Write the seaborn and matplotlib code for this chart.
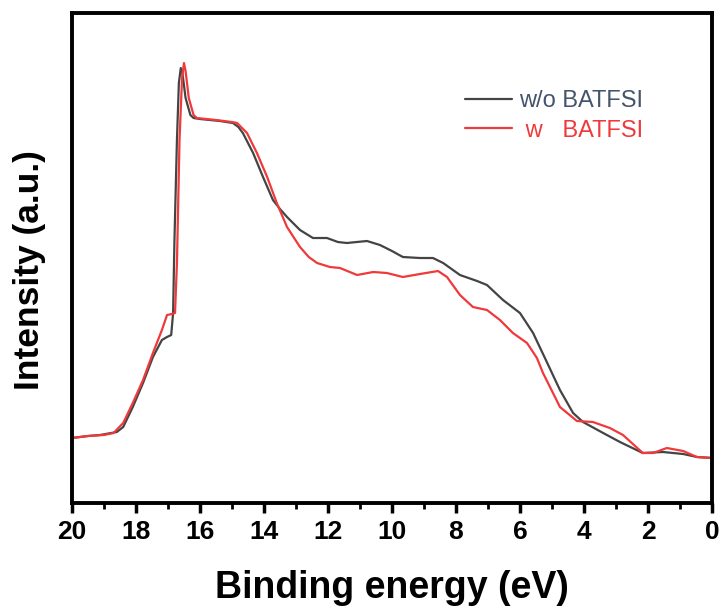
import pandas as pd
import seaborn as sns
import matplotlib.pyplot as plt
from matplotlib.ticker import MultipleLocator, NullLocator
from matplotlib.lines import Line2D

# Valence-band spectra (binding energy in eV, intensity in arbitrary units)
energy_wo = [20.0, 19.5, 19.125, 18.6, 18.4, 18.1, 17.78, 17.47, 17.19, 17.03, 16.9, 16.84,
             16.8, 16.72, 16.66, 16.6, 16.55, 16.45, 16.3, 16.2, 16.0, 15.375, 14.97, 14.8,
             14.66, 14.34, 14.03, 13.72, 13.5, 13.28, 12.875, 12.47, 12.03, 11.69, 11.41,
             11.1, 10.78, 10.375, 10.0, 9.66, 9.125, 8.72, 8.4, 7.875, 7.34, 7.03, 6.53,
             6.0, 5.59, 5.22, 4.75, 4.34, 4.03, 3.4, 2.875, 2.16, 1.53, 0.9, 0.47, 0.0]
intensity_wo = [65, 67, 68, 71, 76, 96, 120, 146, 163, 166, 168, 190,
                260, 363, 420, 435, 430, 405, 388, 385, 384, 382, 380, 376,
                370, 350, 326, 303, 294, 286, 273, 265, 265, 261, 260,
                261, 262, 258, 252, 246, 245, 245, 240, 228, 222, 218, 203,
                190, 170, 145, 113, 90, 81, 70, 61, 50, 51, 49, 46, 45]

energy_w = [20.0, 19.5, 19.0, 18.7, 18.4, 18.1, 17.78, 17.47, 17.19, 17.03, 16.88, 16.78,
            16.72, 16.64, 16.56, 16.5, 16.45, 16.35, 16.2, 16.1, 15.5, 15.0, 14.84, 14.53,
            14.22, 13.9, 13.6, 13.28, 12.875, 12.6, 12.34, 11.94, 11.625, 11.09, 10.59,
            10.16, 9.66, 9.125, 8.56, 8.28, 7.875, 7.47, 7.03, 6.625, 6.22, 5.78, 5.47,
            5.28, 4.75, 4.22, 3.72, 3.19, 2.78, 2.16, 1.84, 1.41, 0.9, 0.47, 0.0]
intensity_w = [65, 67, 68, 70, 80, 100, 123, 150, 173, 188, 189, 190,
               240, 363, 425, 440, 432, 405, 388, 385, 383, 381, 380, 370,
               350, 326, 300, 276, 256, 246, 240, 236, 235, 228, 231,
               230, 226, 229, 232, 226, 208, 196, 193, 183, 170, 160, 145,
               130, 96, 82, 81, 75, 68, 50, 50, 55, 52, 46, 45]

labels = ["w/o BATFSI", " w   BATFSI"]
line_colors = ["#444444", "#f0393b"]
text_colors = ["#44546a", "#f0393b"]

df = pd.concat([
    pd.DataFrame({"energy": energy_wo, "intensity": intensity_wo, "sample": labels[0]}),
    pd.DataFrame({"energy": energy_w, "intensity": intensity_w, "sample": labels[1]}),
], ignore_index=True)

sns.set_style("white")
plt.rcParams["font.family"] = ["Liberation Sans", "DejaVu Sans"]
plt.rcParams["text.color"] = "black"
plt.rcParams["axes.labelcolor"] = "black"
plt.rcParams["xtick.color"] = "black"

fig = plt.figure(figsize=(7.25, 6.08), dpi=100)
ax = fig.add_axes([0.0993, 0.1727, 0.8827, 0.8059])

sns.lineplot(data=df, x="energy", y="intensity", hue="sample", palette=line_colors,
             hue_order=labels, sort=False, estimator=None, linewidth=1.6, ax=ax,
             legend=False)

ax.set_xlim(20, 0)
ax.set_ylim(0, 490)
ax.xaxis.set_major_locator(MultipleLocator(2))
ax.xaxis.set_minor_locator(MultipleLocator(1))
ax.yaxis.set_major_locator(NullLocator())
ax.tick_params(axis="x", which="major", direction="out", length=7, width=2.5,
               bottom=True, top=False, labelsize=19, pad=5, colors="black")
ax.tick_params(axis="x", which="minor", direction="out", length=4, width=2,
               bottom=True, top=False, colors="black")
for lbl in ax.get_xticklabels():
    lbl.set_fontweight("bold")
for sp in ax.spines.values():
    sp.set_linewidth(2.8)
    sp.set_color("black")

ax.set_xlabel("Binding energy (eV)", fontsize=27, fontweight="bold", labelpad=19,
              color="black")
ax.set_ylabel("Intensity (a.u.)", fontsize=25.5, fontweight="bold", color="black")
ax.yaxis.set_label_coords(-0.040, 0.475)

handles = [Line2D([], [], color=c, linewidth=1.6) for c in line_colors]
leg = ax.legend(handles, labels, loc="upper left", bbox_to_anchor=(0.614, 0.842),
                frameon=False, fontsize=17, handlelength=2.0, handletextpad=0.3,
                labelspacing=0.3, borderpad=0, borderaxespad=0)
for txt, c in zip(leg.get_texts(), text_colors):
    txt.set_color(c)

fig.savefig("out.png", dpi=100)
